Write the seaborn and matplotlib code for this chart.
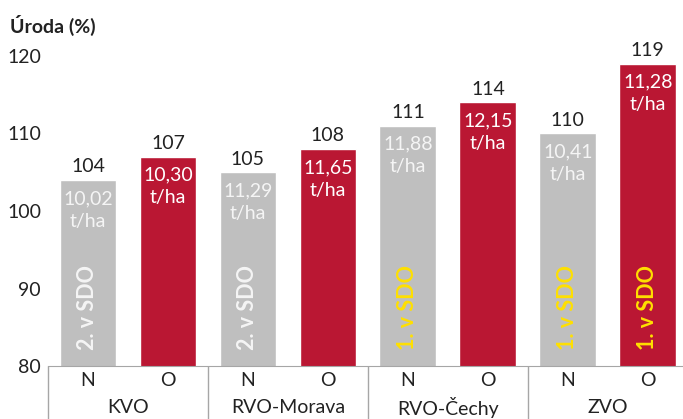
import pandas as pd
import matplotlib.pyplot as plt
import matplotlib.transforms as mtransforms
import seaborn as sns

# data
groups = ["KVO", "RVO-Morava", "RVO-Čechy", "ZVO"]
kinds = ["N", "O"]
yield_pct = [104, 107, 105, 108, 111, 114, 110, 119]
yield_tha = ["10,02", "10,30", "11,29", "11,65", "11,88", "12,15", "10,41", "11,28"]
rank_text = ["2. v SDO", "", "2. v SDO", "", "1. v SDO", "", "1. v SDO", "1. v SDO"]

GRAY = "#BFBFBF"
RED = "#BA1733"
YELLOW = "#FFE000"

sns.set_style("white")
plt.rcParams["font.family"] = ["Lato", "DejaVu Sans"]

df = pd.DataFrame({
    "bar": [f"{g} {k}" for g in groups for k in kinds],
    "typ": kinds * len(groups),
    "value": yield_pct,
})

fig = plt.figure(figsize=(6.83, 4.19), dpi=100)
ax = fig.add_axes([48 / 683, 53 / 419, 1 - 48 / 683, (366 - 56) / 419])

sns.barplot(data=df, x="bar", y="value", hue="typ", palette={"N": GRAY, "O": RED},
            dodge=False, width=0.71, legend=False, ax=ax, saturation=1)

FS = 14
ax.set_ylim(80, 120)
ax.set_xlim(-0.5, 7.44)
ax.set_yticks([80, 90, 100, 110, 120])
ax.tick_params(axis="y", length=0, labelsize=FS, labelcolor="#222222", pad=5)
ax.set_xlabel("")
ax.set_ylabel("")
for s in ["top", "right", "left"]:
    ax.spines[s].set_visible(False)
ax.spines["bottom"].set_color("#A6A6A6")

# N / O tick labels and group separators
ax.set_xticks(range(len(df)))
ax.set_xticklabels(df["typ"])
ax.set_xticks([-0.5, 1.5, 3.5, 5.5], minor=True)
ax.tick_params(axis="x", which="major", bottom=True, length=0, labelsize=FS, pad=4,
               labelcolor="#222222")
ax.tick_params(axis="x", which="minor", bottom=True, length=40, width=1,
               color="#A6A6A6", direction="out")

trans = mtransforms.blended_transform_factory(ax.transData, ax.transAxes)
for i, g in enumerate(groups):
    ax.text(2 * i + 0.5, -0.135, g, transform=trans, ha="center", va="center",
            fontsize=FS, color="#222222")

# labels on bars
for i, (v, t, r) in enumerate(zip(yield_pct, yield_tha, rank_text)):
    is_o = df["typ"][i] == "O"
    ax.text(i, v + 0.6, str(v), ha="center", va="bottom", fontsize=FS, color="#222222")
    ax.text(i, v - 1.3, f"{t}\nt/ha", ha="center", va="top", fontsize=FS,
            color="white" if is_o else "#F5F5F5", linespacing=1.4)
    if r:
        col = YELLOW if r.startswith("1") else "#F5F5F5"
        ax.text(i, 87.6, r, rotation=90, ha="center", va="center", fontsize=15.5,
                fontweight="bold", color=col)

fig.text(10 / 683, 1 - 25 / 419, "Úroda (%)", fontsize=14, fontweight="bold",
         color="#222222", va="center", ha="left")

fig.savefig("out.png", dpi=100)
